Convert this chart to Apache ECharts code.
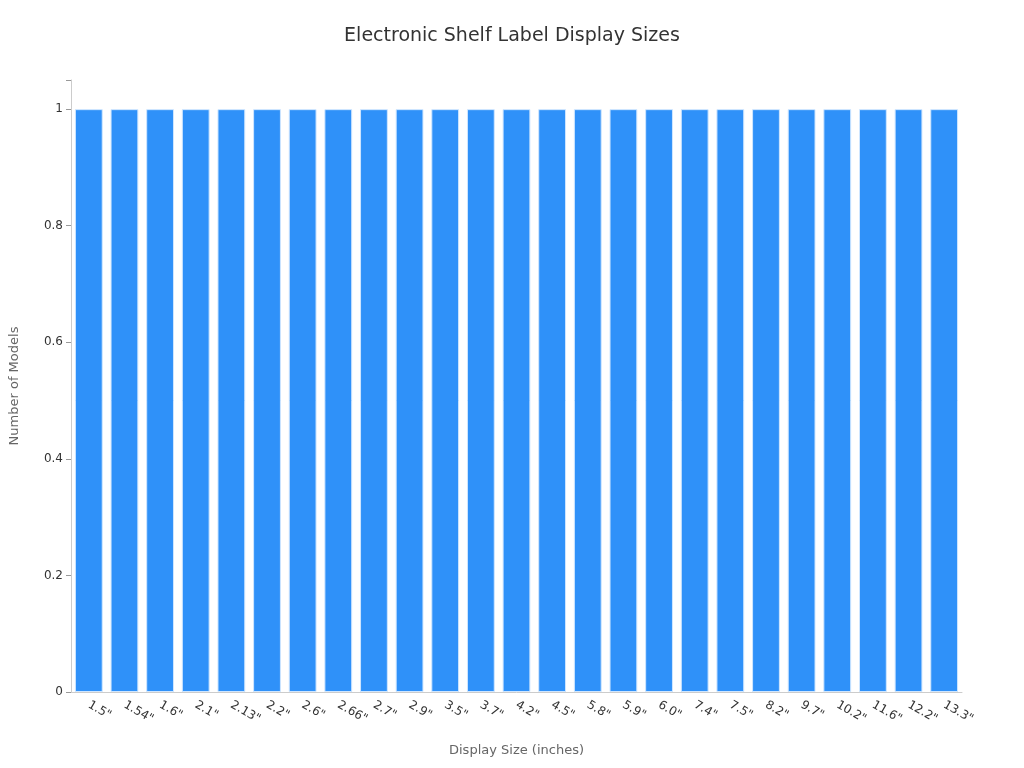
<!DOCTYPE html><html><head><meta charset="utf-8"><script src="https://cdn.jsdelivr.net/npm/echarts@6/dist/echarts.min.js"></script></head><body style="margin:0"><div id="c" style="width:1024px;height:768px"></div><script>
const categories=['1.5"','1.54"','1.6"','2.1"','2.13"','2.2"','2.6"','2.66"','2.7"','2.9"','3.5"','3.7"','4.2"','4.5"','5.8"','5.9"','6.0"','7.4"','7.5"','8.2"','9.7"','10.2"','11.6"','12.2"','13.3"'];
const models=[1,1,1,1,1,1,1,1,1,1,1,1,1,1,1,1,1,1,1,1,1,1,1,1,1];
const ch=echarts.init(document.getElementById('c'));
const F='DejaVu Sans';
ch.setOption({textStyle:{fontFamily:F},
title:{text:'Electronic Shelf Label Display Sizes',left:'center',top:22,textStyle:{fontFamily:F,fontSize:19,fontWeight:'normal',color:'#333'}},
grid:{left:65,right:62,top:80,bottom:76},
xAxis:{type:'category',data:categories,name:'Display Size (inches)',nameLocation:'middle',nameGap:52,nameTextStyle:{fontSize:13,color:'#666'},
axisLine:{lineStyle:{color:'#ccc'}},axisTick:{alignWithLabel:true,lineStyle:{color:'#999'}},axisLabel:{rotate:-30,color:'#333',fontSize:12,margin:12,interval:0}},
yAxis:{type:'value',min:0,max:1.05,interval:0.2,name:'Number of Models',nameLocation:'middle',nameGap:50,nameTextStyle:{fontSize:13,color:'#666'},
axisLine:{show:true,lineStyle:{color:'#ccc'}},axisTick:{show:true,lineStyle:{color:'#999'}},splitLine:{show:false},
axisLabel:{color:'#333',fontSize:12,formatter:v=>Math.abs(v*5-Math.round(v*5))<1e-6?String(+v.toFixed(1)):''}},
series:[{type:'bar',data:models,barWidth:'78%',itemStyle:{color:'#2f91f9',borderColor:'#cfe6ff',borderWidth:1}}]});
</script></body></html>
